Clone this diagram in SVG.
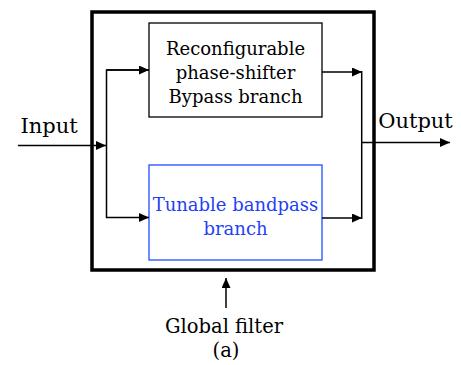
<svg xmlns="http://www.w3.org/2000/svg" width="461" height="365" viewBox="0 0 461 365">
<defs>
<marker id="ah" viewBox="0 0 10 10" refX="10" refY="5" markerWidth="10" markerHeight="9" markerUnits="userSpaceOnUse" orient="auto" preserveAspectRatio="none">
<path d="M0,0 L10,5 L0,10 Z" fill="#000"/>
</marker>
<style>
.t{font-family:"DejaVu Serif","Liberation Serif",serif;font-size:18px;fill:#000;text-anchor:middle}
.L{font-size:21px}
.G{font-size:19.5px}
.b{fill:#1f3ff5}
.ln{fill:none;stroke:#000;stroke-width:1.5}
</style>
</defs>
<rect width="461" height="365" fill="#fff"/>
<g id="global">
<rect x="92" y="12" width="282" height="258" fill="none" stroke="#000" stroke-width="3.5"/>
</g>
<g id="bypass">
<rect x="149" y="23" width="173" height="94" fill="#fff" stroke="#000" stroke-width="1.3"/>
<text class="t" x="235.5" y="55">Reconfigurable</text>
<text class="t" x="235.5" y="79">phase-shifter</text>
<text class="t" x="235.5" y="103">Bypass branch</text>
</g>
<g id="bandpass">
<rect x="149" y="165" width="173" height="95" fill="#fff" stroke="#1f4fff" stroke-width="1.3"/>
<text class="t b" x="235.5" y="211">Tunable bandpass</text>
<text class="t b" x="235.5" y="235">branch</text>
</g>
<g id="labels">
<text class="t L" x="49" y="133">Input</text>
<text class="t L" x="415.5" y="128">Output</text>
<text class="t G" x="224" y="333">Global filter</text>
<text class="t G" x="226" y="357">(a)</text>
</g>
<g id="connectors">
<line class="ln" x1="18" y1="145.5" x2="106" y2="145.5" marker-end="url(#ah)"/>
<polyline class="ln" points="149,70 106.5,70 106.5,217.5 149,217.5" marker-end="url(#ah)"/>
<line class="ln" x1="106.5" y1="70" x2="149" y2="70" marker-end="url(#ah)"/>
<line class="ln" x1="322" y1="72" x2="362" y2="72" marker-end="url(#ah)"/>
<line class="ln" x1="322" y1="218" x2="362" y2="218" marker-end="url(#ah)"/>
<line class="ln" x1="361.7" y1="71" x2="361.7" y2="219"/>
<line class="ln" x1="361.7" y1="142.5" x2="450" y2="142.5" marker-end="url(#ah)"/>
<line class="ln" x1="226" y1="308" x2="226" y2="278" marker-end="url(#ah)"/>
</g>
</svg>
